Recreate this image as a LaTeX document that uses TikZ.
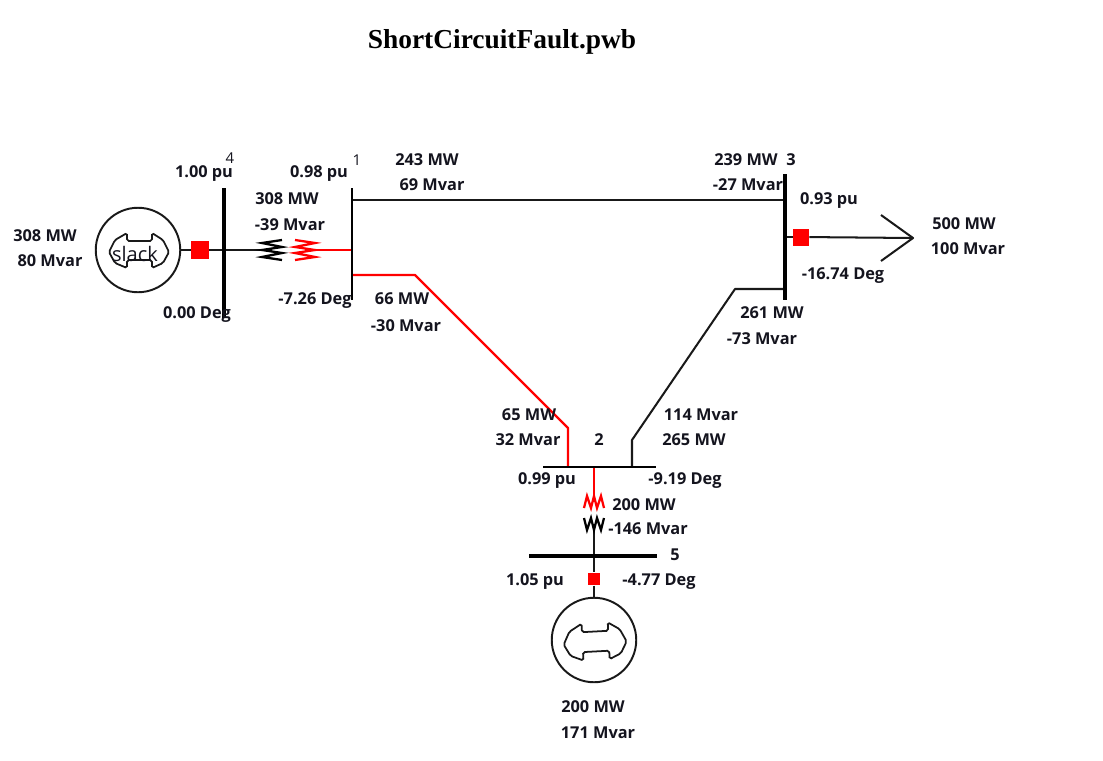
\documentclass[tikz,border=0pt]{standalone}
\usepackage{fontspec}
\setmainfont{Open Sans}
\newfontfamily\titlefont{Liberation Serif}
\definecolor{faultred}{RGB}{255, 0, 0}
\definecolor{labelink}{RGB}{20, 20, 30}

\begin{document}
\begin{tikzpicture}[x=0.02cm, y=-0.02cm]
    \tikzstyle{wire} = [line width=1.15pt, black!90, line join=round]
    \tikzstyle{redwire} = [line width=1.3pt, faultred, line join=round]
    \tikzstyle{bus} = [black, line width=2.2pt]
    \tikzstyle{thinbus} = [black, line width=1.3pt]
    \tikzstyle{breaker} = [rectangle, fill=faultred, inner sep=0pt]
    \tikzstyle{machine} = [circle, draw=black!90, line width=1.1pt, fill=white, minimum size=1.69cm, inner sep=0pt]
    \tikzstyle{val} = [font=\bfseries\fontsize{9.3}{10}\selectfont, text=labelink, inner sep=0pt, text height=6.6pt, text depth=0pt, yshift=-0.5pt]
    \tikzstyle{busnum} = [font=\fontsize{8.5}{10}\selectfont, text=labelink, inner sep=0pt, text height=6.1pt, text depth=0pt]
    \tikzset{
        coil/.pic={\draw[line width=1.3pt, line join=miter, pic actions] (-10,-10) -- (10,-7) -- (-10,-3) -- (10,0) -- (-10,3) -- (10,7) -- (-10,10);},
        bone/.pic={\draw[line width=1pt, black!90, rounded corners=1pt] (-11,-17) -- (-11,-9) -- (14,-9) -- (14,-17) -- (25,-10) -- (31,2) -- (25,13) -- (14,18) -- (14,10) -- (-11,10) -- (-11,18) -- (-23,13) -- (-29,2) -- (-23,-10) -- cycle;}
    }

    \useasboundingbox (0,0) rectangle (1103,761);

    \node[font=\titlefont\bfseries\fontsize{15.6}{18}\selectfont, inner sep=0pt] (title) at (502,42) {ShortCircuitFault.pwb};

    % buses
    \coordinate (b4top) at (224,188);
    \coordinate (b4bot) at (224,318);
    \coordinate (b4mid) at (224,250);
    \coordinate (b1top) at (352,188);
    \coordinate (b1bot) at (352,300);
    \coordinate (b1a) at (352,200);
    \coordinate (b1b) at (352,250);
    \coordinate (b1c) at (352,275);
    \coordinate (b3top) at (785,174);
    \coordinate (b3bot) at (785,300);
    \coordinate (b3a) at (785,200);
    \coordinate (b3b) at (785,237);
    \coordinate (b3c) at (785,289);
    \coordinate (b2l) at (543,467);
    \coordinate (b2r) at (656,467);
    \coordinate (b2a) at (568,467);
    \coordinate (b2b) at (594,467);
    \coordinate (b2c) at (632,467);
    \coordinate (b5l) at (529,556);
    \coordinate (b5r) at (657,556);
    \coordinate (b5mid) at (594,556);

    % machines, breakers, transformers
    \node[machine] (slack) at (138,250) {};
    \pic at (138,250) {bone};
    \node[font=\fontsize{11.4}{12}\selectfont, text=labelink, inner sep=0pt] (slacktext) at (135,254) {slack};
    \node[machine] (gen) at (594,640) {};
    \pic[rotate=3, scale=1.05] at (594,641) {bone};
    \node[breaker, minimum size=0.36cm] (brk4) at (200,250) {};
    \node[breaker, minimum width=0.32cm, minimum height=0.34cm] (brk3) at (801,237) {};
    \node[breaker, minimum size=0.25cm] (brk5) at (594,579) {};
    \coordinate (t14blk) at (272,250);
    \coordinate (t14red) at (305,250);
    \coordinate (t25red) at (594,502);
    \coordinate (t25blk) at (594,524);
    \coordinate (loadtip) at (913,238);
    \coordinate (loadup) at (881,215);
    \coordinate (loaddn) at (881,261);

    % lines
    \draw[wire] (slack) -- (brk4);
    \draw[wire] (brk4) -- (b4mid);
    \draw[wire] (b4mid) -- (t14blk);
    \draw[redwire] (b1b) -- (t14red);
    \draw[wire] (b1a) -- (b3a);
    \draw[redwire] (b1c) -- (415,275) -- (568,428) -- (b2a);
    \draw[wire] (b3c) -- (735,289) -- (632,440) -- (b2c);
    \draw[wire] (b3b) -- (brk3);
    \draw[wire] (brk3) -- (loadtip);
    \draw[wire] (loadup) -- (loadtip) -- (loaddn);
    \draw[redwire] (b2b) -- (t25red);
    \draw[wire] (t25blk) -- (b5mid);
    \draw[wire] (b5mid) -- (brk5);
    \draw[wire] (brk5) -- (gen);

    \draw[bus] (b4top) -- (b4bot);
    \draw[line width=1.5pt] (b1top) -- (b1bot);
    \draw[bus] (b3top) -- (b3bot);
    \draw[thinbus] (b2l) -- (b2r);
    \draw[line width=1.8pt] (b5l) -- (b5r);

    \pic[black, xscale=-1] at (t14blk) {coil};
    \pic[faultred] at (t14red) {coil};
    \pic[faultred, rotate=90, xscale=.6] at (t25red) {coil};
    \pic[black, rotate=90, xscale=-.6] at (t25blk) {coil};

    % bus numbers
    \node[busnum] (n4) at (230,158) {4};
    \node[busnum] (n1) at (357,160) {1};
    \node[val] (n3) at (791,159) {3};
    \node[val] (n2) at (599,439) {2};
    \node[val] (n5) at (675,554) {5};

    % values
    \node[val] (v1) at (45,235) {308 MW};
    \node[val] (v2) at (50,260) {80 Mvar};
    \node[val] (v3) at (204,171) {1.00 pu};
    \node[val] (v4) at (197,312) {0.00 Deg};
    \node[val] (v5) at (319,171) {0.98 pu};
    \node[val] (v6) at (287,198) {308 MW};
    \node[val] (v7) at (290,224) {-39 Mvar};
    \node[val] (v8) at (315,298) {-7.26 Deg};
    \node[val] (v9) at (427,159) {243 MW};
    \node[val] (v10) at (432,184) {69 Mvar};
    \node[val] (v11) at (402,298) {66 MW};
    \node[val] (v12) at (406,325) {-30 Mvar};
    \node[val] (v13) at (746,159) {239 MW};
    \node[val] (v14) at (748,184) {-27 Mvar};
    \node[val] (v15) at (829,198) {0.93 pu};
    \node[val] (v16) at (964,223) {500 MW};
    \node[val] (v17) at (968,248) {100 Mvar};
    \node[val] (v18) at (843,273) {-16.74 Deg};
    \node[val] (v19) at (772,312) {261 MW};
    \node[val] (v20) at (762,338) {-73 Mvar};
    \node[val] (v21) at (529,414) {65 MW};
    \node[val] (v22) at (528,439) {32 Mvar};
    \node[val] (v23) at (701,414) {114 Mvar};
    \node[val] (v24) at (694,439) {265 MW};
    \node[val] (v25) at (547,478) {0.99 pu};
    \node[val] (v26) at (685,478) {-9.19 Deg};
    \node[val] (v27) at (644,504) {200 MW};
    \node[val] (v28) at (648,528) {-146 Mvar};
    \node[val] (v29) at (535,579) {1.05 pu};
    \node[val] (v30) at (659,579) {-4.77 Deg};
    \node[val] (v31) at (593,706) {200 MW};
    \node[val] (v32) at (598,732) {171 Mvar};
\end{tikzpicture}
\end{document}
